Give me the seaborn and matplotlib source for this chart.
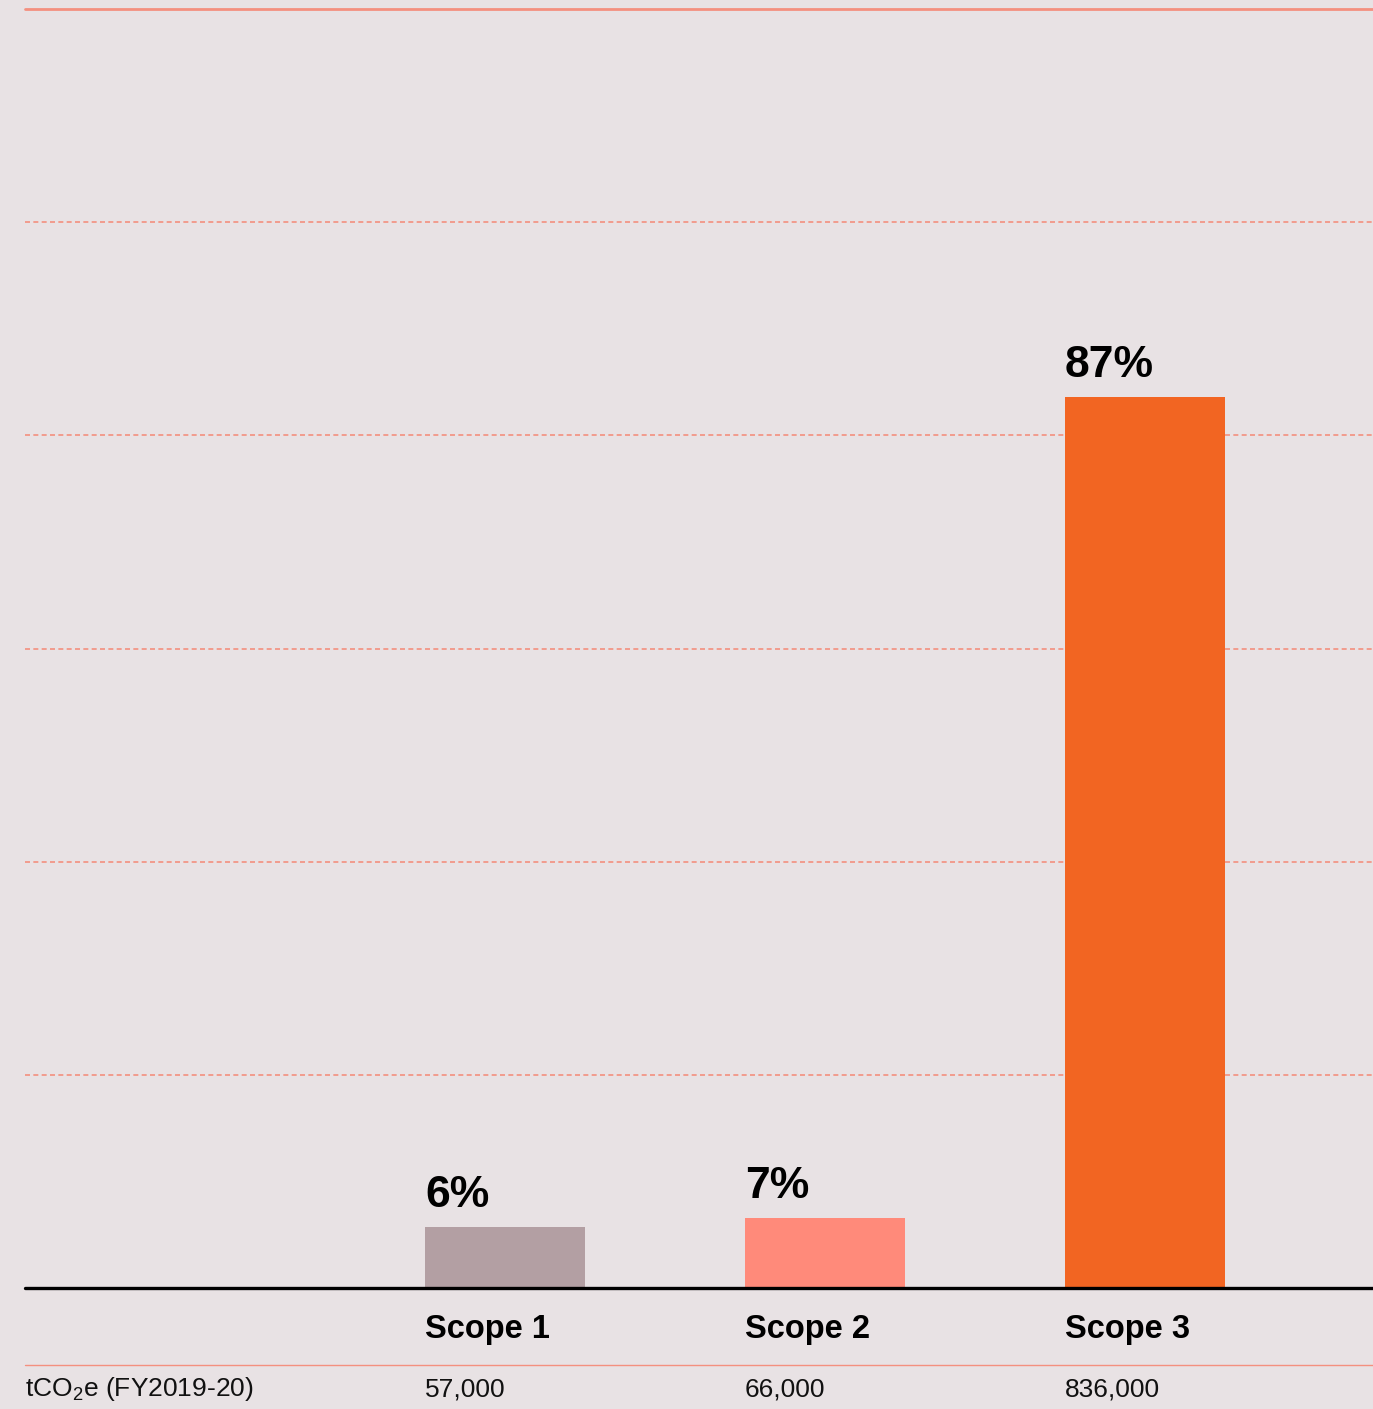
import matplotlib
matplotlib.use("Agg")
import matplotlib.pyplot as plt
from matplotlib.lines import Line2D
import seaborn as sns
import pandas as pd

# Emissions by scope, tonnes CO2-equivalent, FY2019-20
scopes = ["Scope 1", "Scope 2", "Scope 3"]
emissions = [57000, 66000, 836000]
value_labels = ["57,000", "66,000", "836,000"]
share_labels = ["6%", "7%", "87%"]
bar_colors = ["#B39FA3", "#FF8A7A", "#F26522"]
row_title = "tCO$_\\mathregular{2}$e (FY2019-20)"
grid_levels = [200000, 400000, 600000, 800000, 1000000]
y_max = 1200000

BG = "#E8E2E4"
GRID = "#F4907F"

sns.set_theme(style="white")
plt.rcParams["font.family"] = ["Liberation Sans", "DejaVu Sans"]
plt.rcParams["mathtext.fontset"] = "custom"
plt.rcParams["mathtext.rm"] = "Liberation Sans"

fig = plt.figure(figsize=(13.73, 14.09), dpi=100, facecolor=BG)
ax = fig.add_axes([25 / 1373, 121 / 1409, 1348 / 1373, 1279 / 1409])
ax.set_facecolor(BG)

df = pd.DataFrame({"scope": scopes, "tco2e": emissions})
sns.barplot(data=df, x="scope", y="tco2e", hue="scope", palette=bar_colors,
            width=0.5, saturation=1, legend=False, ax=ax, zorder=3,
            linewidth=0, edgecolor="none")

ax.set_xlim(-1.5, 2.7125)
ax.set_ylim(0, y_max)

# dotted reference lines and solid top rule
for lvl in grid_levels:
    ax.axhline(lvl, color=GRID, lw=1.2, ls=(0, (3, 2)), zorder=1)
ax.axhline(y_max, color=GRID, lw=2.0, zorder=1, clip_on=False)
ax.axhline(0, color="black", lw=2.4, zorder=4, clip_on=False)

for s in ax.spines.values():
    s.set_visible(False)
ax.set_xticks([])
ax.set_yticks([])
ax.set_xlabel("")
ax.set_ylabel("")

xt = ax.get_xaxis_transform()
for i, (v, share, vl, sc) in enumerate(zip(emissions, share_labels, value_labels, scopes)):
    left = i - 0.25
    ax.annotate(share, xy=(left, v), xytext=(0, 14.5), textcoords="offset points",
                ha="left", va="baseline", fontsize=32, fontweight="bold", color="black")
    ax.text(left, -0.0325, sc, transform=xt, ha="left", va="center",
            fontsize=23.5, fontweight="bold", color="black")
    ax.text(left, -0.0790, vl, transform=xt, ha="left", va="center",
            fontsize=19, color="#111111")

ax.text(0, -0.0790, row_title, transform=ax.transAxes, ha="left", va="center",
        fontsize=19, color="#111111")
ax.add_line(Line2D([0, 1], [-0.0602, -0.0602], transform=ax.transAxes,
                   color=GRID, lw=1.0, clip_on=False))

fig.savefig("out.png", dpi=100, facecolor=BG)
